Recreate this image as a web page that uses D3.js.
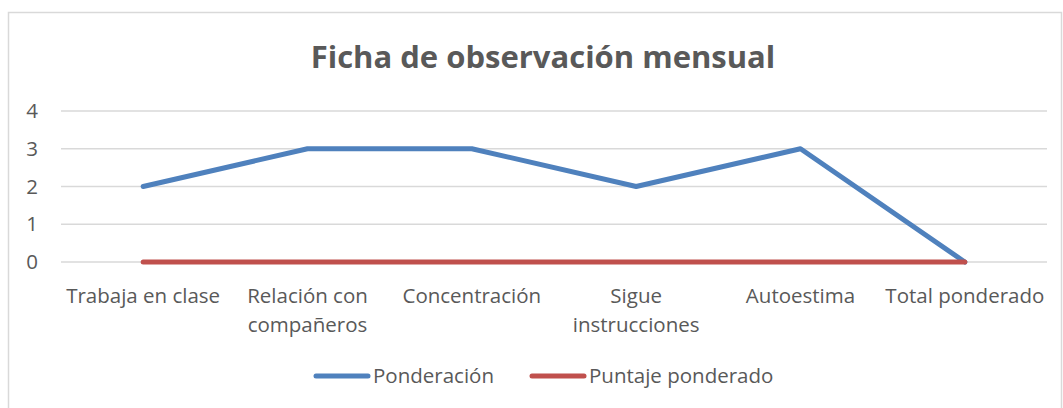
<!DOCTYPE html>
<html><head><meta charset="utf-8">
<script src="https://cdn.jsdelivr.net/npm/d3@7"></script>
<style>body{margin:0;background:#fff}svg{display:block}</style>
</head><body>
<script>
const categories = [["Trabaja en clase"],["Relación con","compañeros"],["Concentración"],["Sigue","instrucciones"],["Autoestima"],["Total ponderado"]];
const ponderacion = [2,3,3,2,3,0];
const puntaje = [0,0,0,0,0,0];
const yTicks = [0,1,2,3,4];
const seriesNames = ["Ponderación","Puntaje ponderado"];
const colors = ["#4F81BD","#C0504D"];
const title = "Ficha de observación mensual";

const W=1063,H=408, font="'Open Sans', sans-serif", txt="#595959";
const svg=d3.select("body").append("svg").attr("width",W).attr("height",H);
svg.append("rect").attr("x",8.5).attr("y",12.5).attr("width",1053).attr("height",410).attr("fill","#fff").attr("stroke","#d9d9d9").attr("stroke-width",1.5);

const x=d3.scaleBand().domain(d3.range(categories.length)).range([61,1047]);
const y=d3.scaleLinear().domain([0,4]).range([262,111]);

svg.append("text").attr("x",543).attr("y",68).attr("text-anchor","middle").attr("font-family",font).attr("font-weight","bold").attr("font-size",31).attr("fill",txt).text(title);

const g=svg.append("g");
g.selectAll("line.grid").data(yTicks).join("line").attr("x1",61).attr("x2",1047).attr("y1",d=>y(d)).attr("y2",d=>y(d)).attr("stroke","#d9d9d9").attr("stroke-width",1.5);
g.selectAll("text.yl").data(yTicks).join("text").attr("x",38).attr("y",d=>y(d)+7).attr("text-anchor","end").attr("font-family",font).attr("font-size",20.5).attr("fill",txt).text(d=>d);

const xl=g.selectAll("text.xl").data(categories).join("text").attr("text-anchor","middle").attr("font-family",font).attr("font-size",20.5).attr("fill",txt);
xl.each(function(d,i){
  d3.select(this).selectAll("tspan").data(d).join("tspan").attr("x",x(i)+x.bandwidth()/2).attr("y",(t,j)=>303+j*29).text(t=>t);
});

const line=d3.line().x((d,i)=>x(i)+x.bandwidth()/2).y(d=>y(d));
[ponderacion,puntaje].forEach((s,k)=>{
  g.append("path").attr("d",line(s)).attr("fill","none").attr("stroke",colors[k]).attr("stroke-width",5).attr("stroke-linecap","round").attr("stroke-linejoin","round");
});

const leg=[{x:316,tx:373},{x:532,tx:589}];
seriesNames.forEach((n,k)=>{
  svg.append("line").attr("x1",leg[k].x).attr("x2",leg[k].x+52).attr("y1",376).attr("y2",376).attr("stroke",colors[k]).attr("stroke-width",5).attr("stroke-linecap","round");
  svg.append("text").attr("x",leg[k].tx).attr("y",383).attr("font-family",font).attr("font-size",20.5).attr("fill",txt).text(n);
});
</script>
</body></html>
